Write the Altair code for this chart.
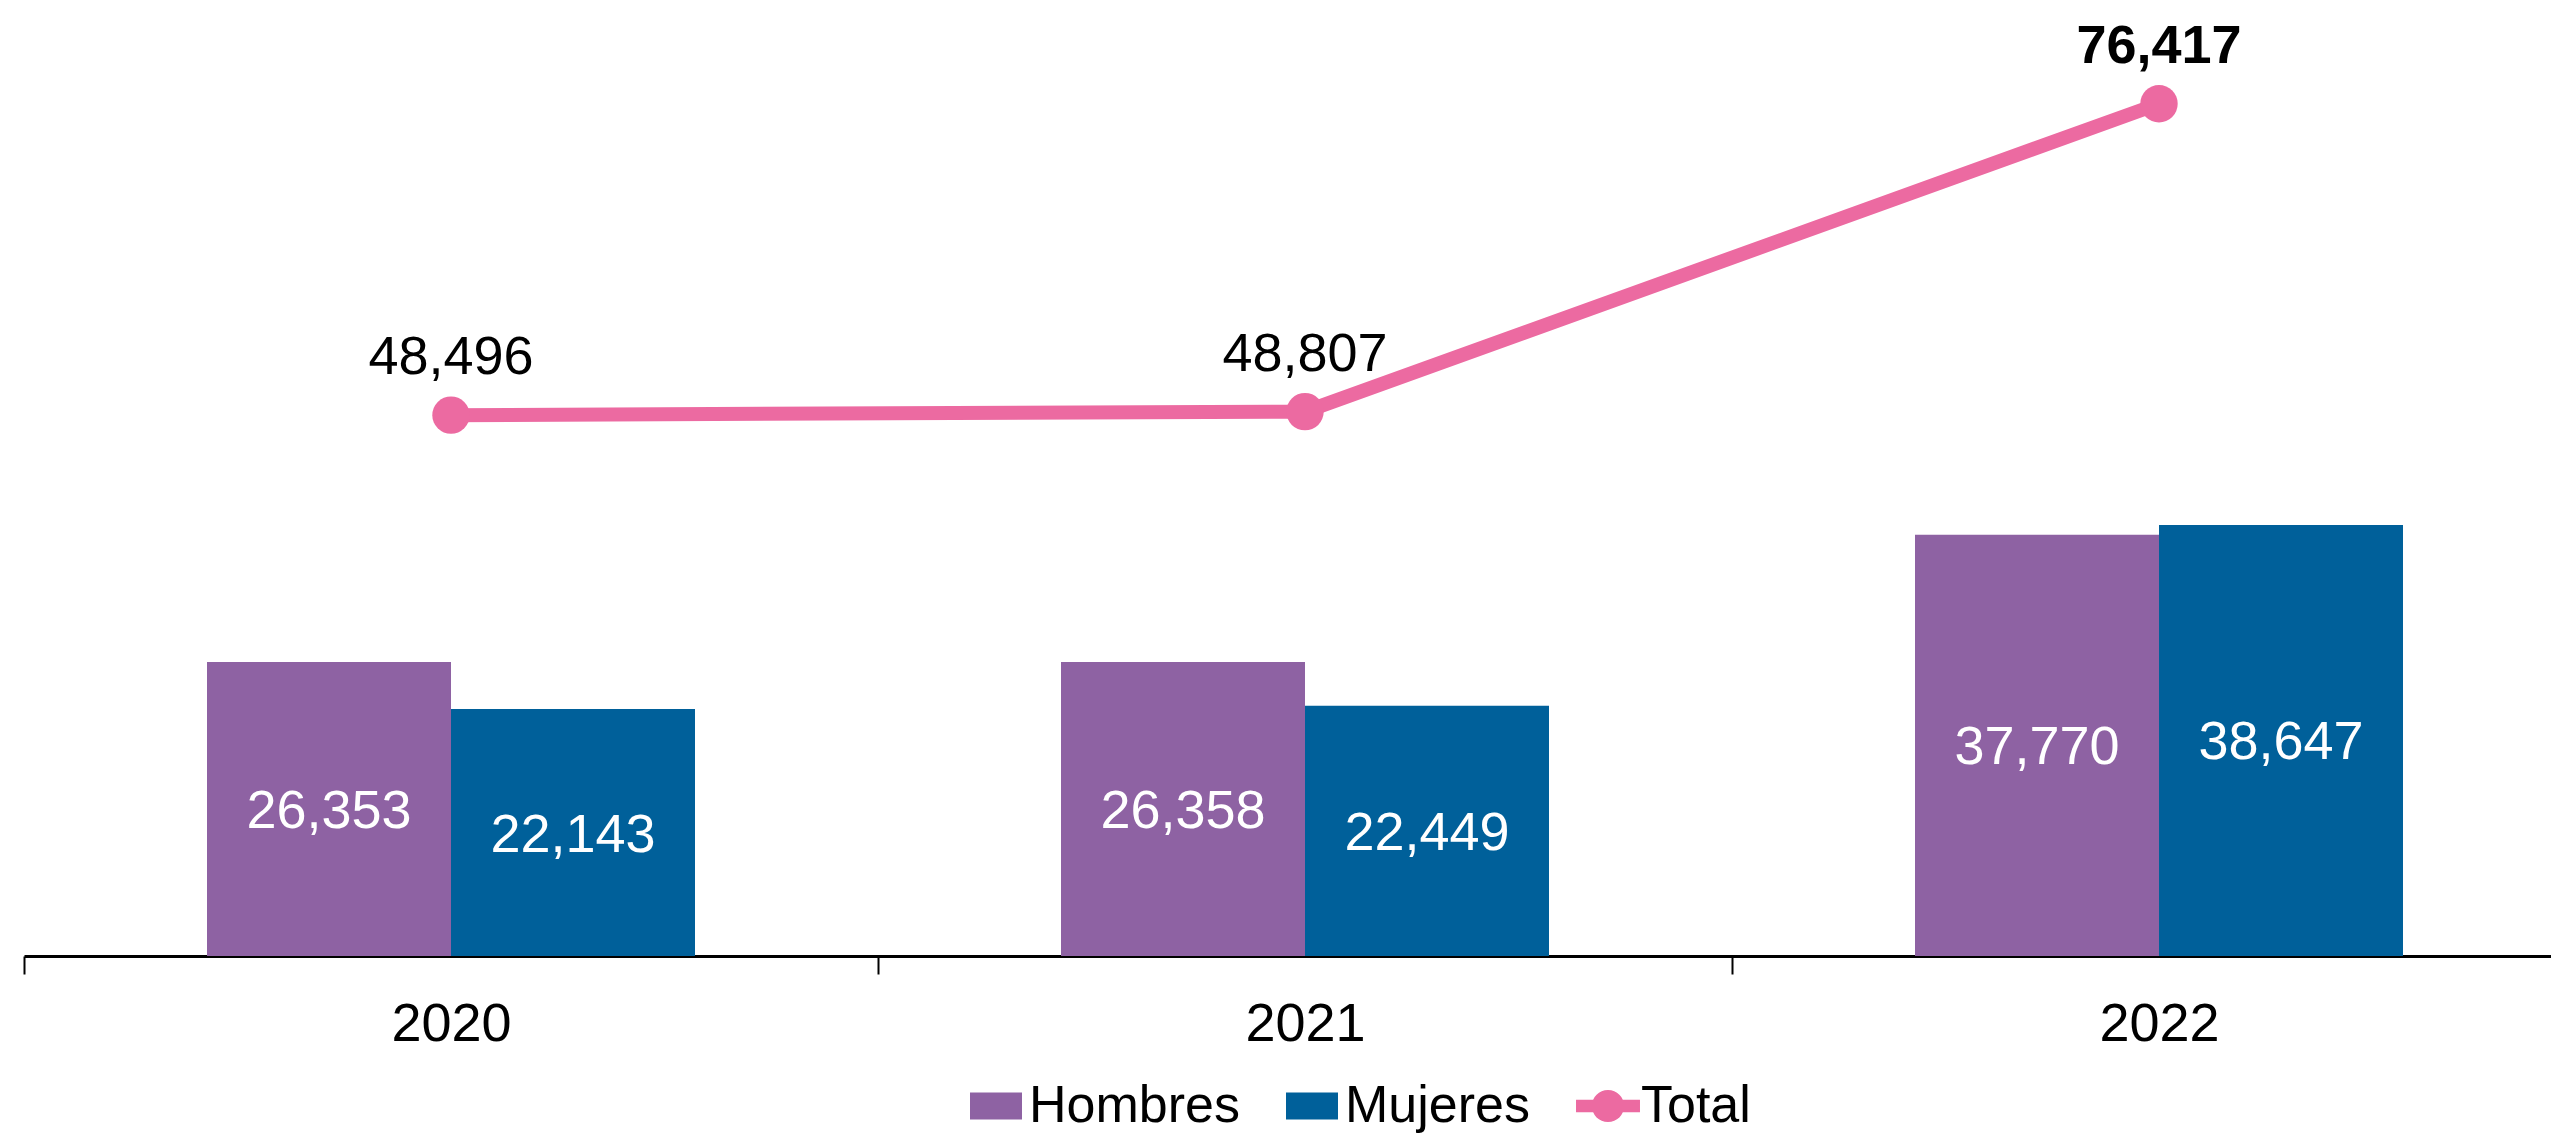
import altair as alt
import pandas as pd

years = ["2020", "2021", "2022"]
hombres = [26353, 26358, 37770]
mujeres = [22143, 22449, 38647]
total = [48496, 48807, 76417]
series = ["Hombres", "Mujeres", "Total"]
colors = ["#8E62A3", "#00609A", "#EC6AA1"]

FONT = "Liberation Sans, Arial, sans-serif"

bars_df = pd.DataFrame({
    "year": years * 2,
    "serie": ["Hombres"] * 3 + ["Mujeres"] * 3,
    "value": hombres + mujeres,
})
tot_df = pd.DataFrame({"year": years, "serie": ["Total"] * 3, "value": total})

x_scale = alt.Scale(domain=years, paddingInner=0, paddingOuter=0)
y_scale = alt.Scale(domain=[0, 85000], nice=False, zero=True)
off_scale = alt.Scale(domain=["Hombres", "Mujeres"], paddingInner=0, paddingOuter=0.75)
color_scale = alt.Scale(domain=series, range=colors)

rect_path = "M-1,-0.52L1,-0.52L1,0.52L-1,0.52Z"
total_path = (
    "M-1.23,-0.24L1.23,-0.24L1.23,0.24L-1.23,0.24Z "
    "M0.62,0C0.62,0.3424 0.3424,0.62 0,0.62C-0.3424,0.62 -0.62,0.3424 -0.62,0"
    "C-0.62,-0.3424 -0.3424,-0.62 0,-0.62C0.3424,-0.62 0.62,-0.3424 0.62,0Z"
)
shape_scale = alt.Scale(domain=series, range=[rect_path, rect_path, total_path])

x_axis = alt.Axis(
    title=None, labelFontSize=54, labelFont=FONT, labelColor="black", labelAngle=0,
    domainColor="black", domainWidth=3, tickColor="black", tickWidth=2, tickSize=18,
    tickBand="extent", labelPadding=50, labelBaseline="middle", grid=False,
)

X = alt.X("year:N", scale=x_scale, axis=x_axis)
Y = alt.Y("value:Q", scale=y_scale, axis=None)

legend_kw = dict(
    orient="none", legendX=946, legendY=1072, direction="horizontal", title=None,
    labelFontSize=52, labelFont=FONT, labelColor="black", labelLimit=600,
    symbolSize=2704, symbolStrokeWidth=0, labelOffset=7, columnPadding=46,
    padding=0, symbolOpacity=1,
)

# legend-only layer (no visible marks); placed first so its legend settings win the merge
legend_layer = alt.Chart(tot_df).transform_filter("false").mark_point(filled=True, opacity=1).encode(
    color=alt.Color("serie:N", scale=color_scale, legend=alt.Legend(**legend_kw)),
    shape=alt.Shape("serie:N", scale=shape_scale, legend=alt.Legend(**legend_kw)),
)

bars = alt.Chart(bars_df).mark_bar().encode(
    x=X,
    xOffset=alt.XOffset("serie:N", scale=off_scale),
    y=Y,
    color=alt.Color("serie:N", scale=color_scale, legend=alt.Legend(**legend_kw)),
)

bar_text = alt.Chart(bars_df).transform_calculate(mid="datum.value / 2").mark_text(
    color="white", fontSize=54, font=FONT, baseline="middle", dy=3
).encode(
    x=X,
    xOffset=alt.XOffset("serie:N", scale=off_scale),
    y=alt.Y("mid:Q", scale=y_scale, axis=None),
    text=alt.Text("value:Q", format=",d"),
)

line = alt.Chart(tot_df).mark_line(strokeWidth=14, color=colors[2]).encode(x=X, y=Y)
points = alt.Chart(tot_df).mark_circle(size=1400, opacity=1, color=colors[2]).encode(x=X, y=Y)

tot_text = alt.Chart(tot_df).transform_filter("datum.year != '2022'").mark_text(
    fontSize=54, font=FONT, color="black", baseline="middle", dy=-57
).encode(x=X, y=Y, text=alt.Text("value:Q", format=",d"))

tot_text_bold = alt.Chart(tot_df).transform_filter("datum.year == '2022'").mark_text(
    fontSize=54, font=FONT, color="black", baseline="middle", dy=-57, fontWeight="bold"
).encode(x=X, y=Y, text=alt.Text("value:Q", format=",d"))

chart = alt.layer(legend_layer, bars, bar_text, line, points, tot_text, tot_text_bold).properties(
    width=2562, height=948,
    autosize=alt.AutoSizeParams(type="none"),
    padding={"left": 16, "top": 0, "right": -35, "bottom": 180},
).configure_view(stroke=None)

chart.save("out.html", embed_options={"renderer": "svg", "actions": False})
